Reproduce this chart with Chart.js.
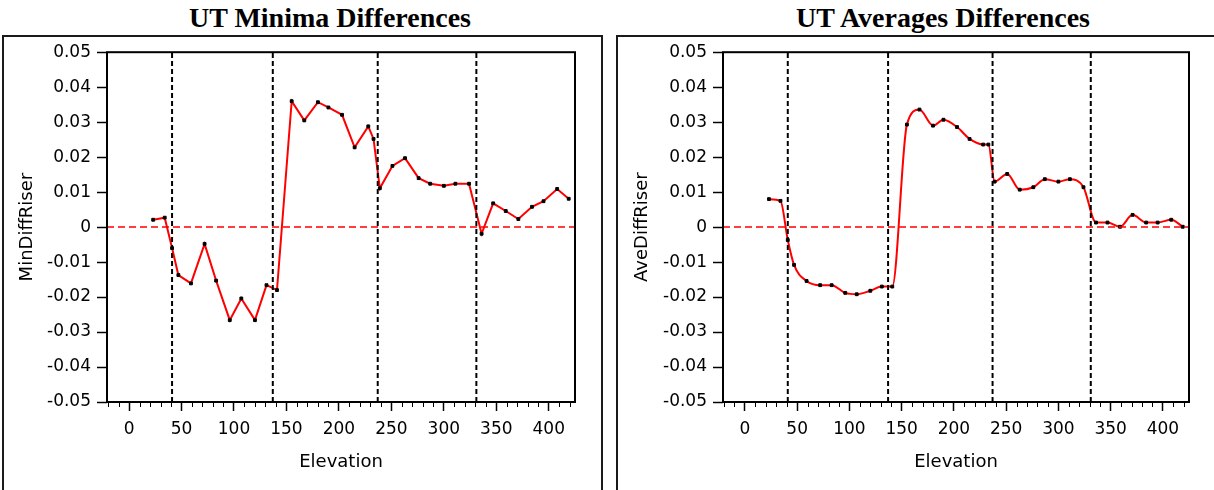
<!DOCTYPE html>
<html>
<head>
<meta charset="utf-8">
<script src="https://cdn.jsdelivr.net/npm/chart.js@4.4.1/dist/chart.umd.min.js"></script>
<style>
    html, body { margin: 0; padding: 0; background: #fff; width: 1214px; height: 490px; overflow: hidden; }
    .title {
        position: absolute; top: 2px; width: 400px; text-align: center;
        font: bold 28px "Liberation Serif", "Times New Roman", serif; line-height: 32px; color: #000;
    }
    .panel { position: absolute; top: 35px; height: 480px; border: 2px solid #1a1a1a; box-sizing: border-box; }
    canvas { position: absolute; top: 36px; }
</style>
</head>
<body>
<div class="title" style="left:130px">UT Minima Differences</div>
<div class="title" style="left:743px">UT Averages Differences</div>
<div class="panel" style="left:2px; width:601px"></div>
<div class="panel" style="left:616px; width:620px"></div>
<canvas id="chartMin" width="602" height="454" style="left:0px"></canvas>
<canvas id="chartAve" width="599" height="454" style="left:615px"></canvas>

<script>
// Data
const elevation = [23, 34, 41, 47, 59, 72, 83, 96, 107, 120, 131, 141, 155, 167, 180, 190, 203, 215,
    228, 233, 239, 251, 263, 276, 287, 300, 311, 324, 336, 347, 359, 371, 384, 395, 408, 419];

const minDiffRiser = [0.0021, 0.0027, -0.006, -0.0137, -0.0161, -0.0048, -0.0153, -0.0266, -0.0204, -0.0266,
    -0.0166, -0.018, 0.036, 0.0305, 0.0357, 0.0342, 0.0321, 0.0228, 0.0288, 0.0252, 0.0111, 0.0175,
    0.0197, 0.014, 0.0124, 0.0118, 0.0124, 0.0124, -0.0019, 0.0068, 0.0046, 0.0023, 0.0058, 0.0074,
    0.0109, 0.0081];

const aveDiffRiser = [0.008, 0.0075, -0.0037, -0.0108, -0.0154, -0.0166, -0.0166, -0.0188, -0.0192, -0.0182,
    -0.017, -0.017, 0.0293, 0.0336, 0.029, 0.0307, 0.0286, 0.0252, 0.0236, 0.0236, 0.013, 0.0152,
    0.0107, 0.0114, 0.0137, 0.013, 0.0137, 0.0114, 0.0013, 0.0013, 0.0001, 0.0035, 0.0013, 0.0013,
    0.0021, 0.0001];

// dashed section markers
const sectionBreaks = [41, 137, 237, 331];

const xMin = -21, xMax = 425, xMajor = 50, xMinor = 10;
const yMin = -0.05, yMax = 0.05, yStep = 0.01;

const tickFont = { family: 'DejaVu Sans', size: 17 };
const titleFont = { family: 'DejaVu Sans', size: 18 };

// box around the plot + minor ticks on the elevation axis
const frameAndMinorTicks = {
    id: 'frameAndMinorTicks',
    afterDraw(chart) {
        const { ctx, chartArea: a, scales: { x } } = chart;
        ctx.save();
        ctx.strokeStyle = '#000';
        ctx.lineWidth = 1;
        for (let v = Math.ceil(xMin / xMinor) * xMinor; v <= xMax; v += xMinor) {
            if (v % xMajor === 0) continue;
            const px = Math.round(x.getPixelForValue(v)) + 0.5;
            ctx.beginPath();
            ctx.moveTo(px, a.bottom);
            ctx.lineTo(px, a.bottom + 5);
            ctx.stroke();
        }
        ctx.lineWidth = 2;
        ctx.strokeRect(a.left, a.top, a.right - a.left, a.bottom - a.top);
        ctx.restore();
    }
};

function makeChart(id, yTitle, values, smooth, yAxisWidth, padRight) {
    const datasets = sectionBreaks.map(b => ({
        data: [{ x: b, y: yMin }, { x: b, y: yMax }],
        borderColor: '#000',
        borderWidth: 2,
        borderDash: [5, 3],
        pointRadius: 0
    }));

    datasets.push({
        data: [{ x: xMin, y: 0 }, { x: xMax, y: 0 }],
        borderColor: '#ff0000',
        borderWidth: 1.5,
        borderDash: [7, 4],
        pointRadius: 0
    });

    datasets.push({
        data: elevation.map((e, i) => ({ x: e, y: values[i] })),
        borderColor: '#ff0000',
        borderWidth: 2,
        cubicInterpolationMode: smooth ? 'monotone' : 'default',
        tension: 0,
        pointStyle: 'rect',
        pointRadius: 2,
        pointBackgroundColor: '#000',
        pointBorderColor: '#000',
        pointBorderWidth: 1
    });

    return new Chart(document.getElementById(id), {
        type: 'line',
        data: { datasets },
        options: {
            responsive: false,
            animation: false,
            events: [],
            layout: { padding: { top: 16, right: padRight, left: 0, bottom: 0 } },
            plugins: { legend: { display: false }, tooltip: { enabled: false } },
            scales: {
                x: {
                    type: 'linear',
                    min: xMin,
                    max: xMax,
                    border: { display: false },
                    grid: { drawOnChartArea: false, drawTicks: true, tickLength: 9, tickColor: '#000', tickWidth: 1.5 },
                    ticks: { stepSize: xMajor, includeBounds: false, color: '#000', font: tickFont, padding: 8, maxRotation: 0 },
                    title: { display: true, text: 'Elevation', color: '#000', font: titleFont, padding: { top: 0, bottom: 17 } },
                    afterFit: s => { s.height = 88; }
                },
                y: {
                    min: yMin,
                    max: yMax,
                    border: { display: false },
                    grid: { drawOnChartArea: false, drawTicks: true, tickLength: 10, tickColor: '#000', tickWidth: 1.5 },
                    ticks: {
                        stepSize: yStep,
                        color: '#000',
                        font: tickFont,
                        padding: 6,
                        callback: v => Math.abs(v) < 1e-9 ? '0' : v.toFixed(2)
                    },
                    title: { display: true, text: yTitle, color: '#000', font: titleFont, padding: { top: 17, bottom: 0 } },
                    afterFit: s => { s.width = yAxisWidth; }
                }
            }
        },
        plugins: [frameAndMinorTicks]
    });
}

makeChart('chartMin', 'MinDiffRiser', minDiffRiser, false, 107, 27);
makeChart('chartAve', 'AveDiffRiser', aveDiffRiser, true, 108, 25);
</script>
</body>
</html>
